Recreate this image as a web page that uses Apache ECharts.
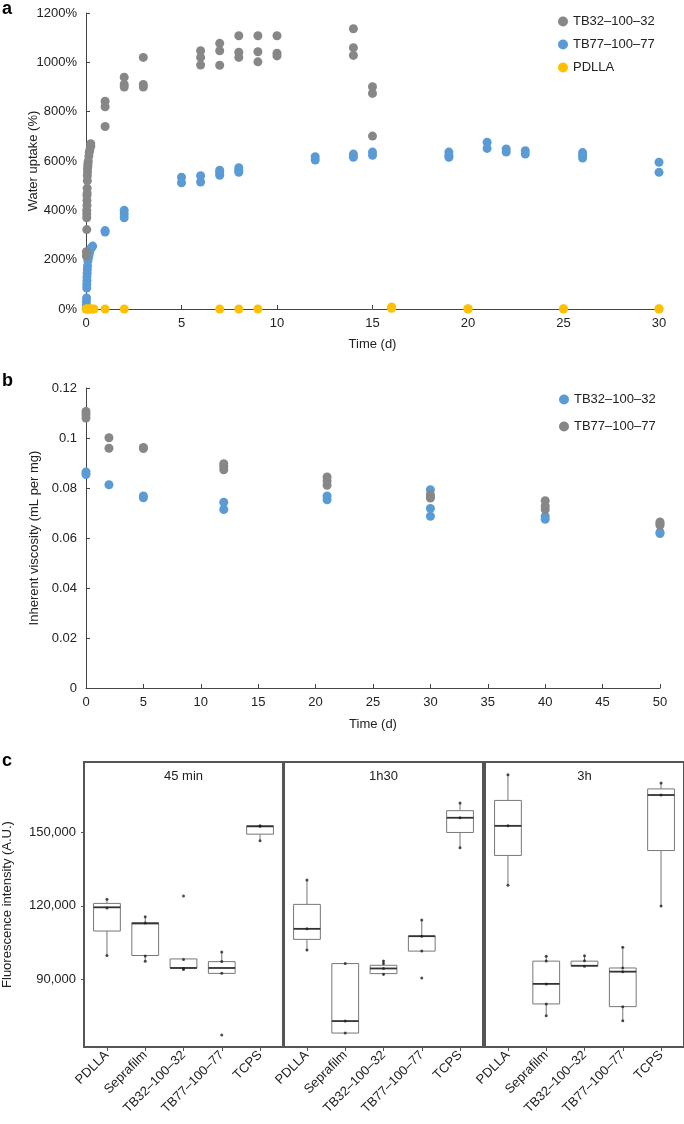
<!DOCTYPE html>
<html>
<head>
<meta charset="utf-8">
<script src="https://cdn.jsdelivr.net/npm/echarts@6/dist/echarts.min.js"></script>
<style>
  html, body { margin: 0; padding: 0; background: #fff; }
  #chart { width: 684px; height: 1124px; }
</style>
</head>
<body>
<div id="chart"></div>
<script>
// ---- panel a: water uptake (%) vs time (d) ----
const upTB32 = [
  [0.02, 215], [0.02, 232], [0.04, 322], [0.04, 370], [0.04, 385], [0.04, 400], [0.05, 420],
  [0.05, 440], [0.05, 460], [0.06, 470], [0.06, 490], [0.07, 520], [0.07, 540], [0.08, 555],
  [0.08, 570], [0.1, 580], [0.1, 590], [0.12, 600], [0.15, 620], [0.17, 635], [0.2, 645],
  [0.25, 660], [0.25, 670],
  [1, 842], [1, 820], [1, 740], [2, 940], [2, 910], [2, 900], [3, 1020], [3, 910], [3, 900],
  [6, 1047], [6, 1020], [6, 989], [7, 1077], [7, 1047], [7, 988], [8, 1108], [8, 1041], [8, 1020],
  [9, 1108], [9, 1043], [9, 1002], [10, 1108], [10, 1037], [10, 1026],
  [14, 1136], [14, 1059], [14, 1028], [15, 901], [15, 874], [15, 701]
];
const upTB77 = [
  [0.02, 15], [0.02, 30], [0.03, 45], [0.04, 85], [0.04, 100], [0.05, 115], [0.05, 130],
  [0.06, 145], [0.07, 160], [0.08, 175], [0.1, 195], [0.12, 205], [0.15, 215], [0.17, 225],
  [0.2, 235], [0.25, 245], [0.3, 250], [0.35, 255],
  [1, 318], [1, 312], [2, 400], [2, 385], [2, 370], [5, 534], [5, 512], [6, 540], [6, 515],
  [7, 563], [7, 553], [7, 542], [8, 573], [8, 563], [8, 554], [12, 617], [12, 604],
  [14, 628], [14, 615], [15, 636], [15, 623], [19, 636], [19, 623], [19, 615],
  [21, 676], [21, 651], [22, 649], [22, 636], [23, 642], [23, 628],
  [26, 634], [26, 623], [26, 612], [30, 595], [30, 554]
];
const upPDLLA = [
  [0, 0], [0.05, 0], [0.1, 0], [0.17, 0], [0.25, 0], [0.33, 0], [0.42, 0], [1, 0], [2, 0],
  [7, 0], [8, 0], [9, 0], [16, 3], [16, 8], [20, 0], [20, 1], [25, 0], [25, 1], [30, 0], [30, 1]
];

// ---- panel b: inherent viscosity (mL per mg) vs time (d) ----
const visTB32 = [
  [0, 0.0864], [0, 0.0854], [2, 0.0813], [5, 0.0768], [5, 0.0761], [12, 0.0743], [12, 0.0714],
  [21, 0.0768], [21, 0.0753], [30, 0.0793], [30, 0.0718], [30, 0.0687], [40, 0.0687], [40, 0.0675],
  [50, 0.0618], [50, 0.0622]
];
const visTB77 = [
  [0, 0.1106], [0, 0.1094], [0, 0.108], [2, 0.1001], [2, 0.0959], [5, 0.0962], [5, 0.0958],
  [12, 0.0897], [12, 0.0886], [12, 0.0873], [21, 0.0844], [21, 0.0828], [21, 0.0811],
  [30, 0.0773], [30, 0.0764], [30, 0.076], [40, 0.0749], [40, 0.0728], [40, 0.0714],
  [50, 0.0664], [50, 0.0658], [50, 0.0651]
];

// ---- panel c: fluorescence boxplots ----
const groups = ['PDLLA', 'Seprafilm', 'TB32–100–32', 'TB77–100–77', 'TCPS'];
const facets = ['45 min', '1h30', '3h'];
// [low whisker, q1, median, q3, high whisker] per group
const box45 = [
  [99700, 109700, 119400, 121000, 122700],
  [97400, 99700, 112800, 113100, 115500],
  [93900, 94600, 94600, 98300, 98300],
  [92400, 92400, 94600, 97200, 101100],
  [146600, 149300, 152500, 152700, 152700]
];
const box90 = [
  [101900, 106300, 110600, 120600, 130600],
  [68000, 68000, 72900, 96400, 96400],
  [91500, 92300, 94400, 95700, 97600],
  [101500, 101500, 107600, 107600, 114200],
  [143700, 150000, 156000, 158900, 162000]
];
const box180 = [
  [128400, 140600, 152700, 163100, 173600],
  [75100, 79900, 88100, 97400, 99400],
  [95300, 95500, 95500, 97400, 99600],
  [73000, 78800, 93100, 94600, 103100],
  [119900, 142600, 165300, 167800, 170200]
];
// individual measurements [group index (1-based), value]
const pts45 = [
  [1, 122700], [1, 119100], [1, 99700], [2, 115500], [2, 113000], [2, 99500], [2, 97400],
  [3, 124000], [3, 98100], [3, 94400], [3, 94000], [4, 101100], [4, 97200], [4, 92400], [4, 67200],
  [5, 152700], [5, 152500], [5, 146600]
];
const pts90 = [
  [1, 130600], [1, 110600], [1, 101900], [2, 96400], [2, 72900], [2, 68000],
  [3, 97500], [3, 96400], [3, 94400], [3, 92000], [4, 114200], [4, 107600], [4, 101500], [4, 90500],
  [5, 162000], [5, 156000], [5, 143700]
];
const pts180 = [
  [1, 173600], [1, 152700], [1, 128400], [2, 99400], [2, 97500], [2, 88100], [2, 79900], [2, 75100],
  [3, 99600], [3, 97600], [3, 95300], [4, 103100], [4, 94600], [4, 93100], [4, 78800], [4, 73000],
  [5, 170200], [5, 165300], [5, 119900]
];

const GRAY = '#878787';
const BLUE = '#5b9bd5';
const GOLD = '#ffc000';
const FONT = '"Liberation Sans", Arial, sans-serif';
const INK = '#222';

let myEcharts = echarts.init(document.getElementById('chart'));

// shared look of the two scatter panels
function sAxisX(grid, max, gap) {
  return {
    type: 'value', gridIndex: grid, min: 0, max: max, interval: 5,
    name: 'Time (d)', nameLocation: 'middle', nameGap: gap, nameMoveOverlap: false,
    nameTextStyle: { fontFamily: FONT, fontSize: 13, color: INK },
    axisLine: { show: true, onZero: false, lineStyle: { color: '#444', width: 1 } },
    axisTick: { show: true, inside: true, length: 4, lineStyle: { color: '#444' } },
    axisLabel: { fontFamily: FONT, fontSize: 13, color: INK, margin: 8 },
    splitLine: { show: false }
  };
}
function sAxisY(grid, max, interval, name, gap, fmt) {
  return {
    type: 'value', gridIndex: grid, min: 0, max: max, interval: interval,
    name: name, nameLocation: 'middle', nameGap: gap, nameMoveOverlap: false,
    nameTextStyle: { fontFamily: FONT, fontSize: 13, color: INK },
    axisLine: { show: true, lineStyle: { color: '#444', width: 1 } },
    axisTick: { show: true, inside: true, length: 4, lineStyle: { color: '#444' } },
    axisLabel: { fontFamily: FONT, fontSize: 13, color: INK, margin: 9, formatter: fmt },
    splitLine: { show: false }
  };
}
function dots(name, data, color, x, y) {
  return {
    name: name, type: 'scatter', xAxisIndex: x, yAxisIndex: y, data: data,
    symbol: 'circle', symbolSize: 9, itemStyle: { color: color, opacity: 1 },
    clip: false, animation: false
  };
}

// box drawn through the axis scales
function boxItem(params, api) {
  let x = api.value(0);
  let lo = api.coord([x, api.value(1)]);
  let q1 = api.coord([x, api.value(2)]);
  let md = api.coord([x, api.value(3)]);
  let q3 = api.coord([x, api.value(4)]);
  let hi = api.coord([x, api.value(5)]);
  let half = api.size([0.35, 0])[0];
  let cx = lo[0];
  let st = { stroke: '#666', lineWidth: 0.9 };
  return {
    type: 'group',
    children: [
      { type: 'line', shape: { x1: cx, y1: lo[1], x2: cx, y2: q1[1] }, style: st },
      { type: 'line', shape: { x1: cx, y1: q3[1], x2: cx, y2: hi[1] }, style: st },
      { type: 'rect', shape: { x: cx - half, y: q3[1], width: half * 2, height: q1[1] - q3[1] },
        style: { fill: '#fff', stroke: '#777', lineWidth: 1 } },
      { type: 'line', shape: { x1: cx - half, y1: md[1], x2: cx + half, y2: md[1] },
        style: { stroke: '#333', lineWidth: 1.8 } }
    ]
  };
}

const cLefts = [84, 284, 485];
const boxes = [box45, box90, box180];
const pts = [pts45, pts90, pts180];

let grids = [
  { left: 86, top: 13, width: 573, height: 296 },
  { left: 86, top: 388, width: 574, height: 300 }
];
let xAxes = [sAxisX(0, 30, 29), sAxisX(1, 50, 30)];
let yAxes = [
  sAxisY(0, 1200, 200, 'Water uptake (%)', 46, v => v + '%'),
  sAxisY(1, 0.12, 0.02, 'Inherent viscosity (mL per mg)', 45, v => String(+v.toFixed(2)))
];
let series = [
  dots('TB77–100–77', upTB77, BLUE, 0, 0),
  dots('TB32–100–32', upTB32, GRAY, 0, 0),
  dots('PDLLA', upPDLLA, GOLD, 0, 0),
  dots('TB32–100–32', visTB32, BLUE, 1, 1),
  dots('TB77–100–77', visTB77, GRAY, 1, 1)
];
let graphics = [
  { type: 'text', left: 2, top: 0, style: { text: 'a', font: 'bold 18px ' + FONT, fill: '#000' } },
  { type: 'text', left: 2, top: 372, style: { text: 'b', font: 'bold 18px ' + FONT, fill: '#000' } },
  { type: 'text', left: 2, top: 752, style: { text: 'c', font: 'bold 18px ' + FONT, fill: '#000' } }
];

cLefts.forEach((left, i) => {
  let g = i + 2;
  grids.push({ left: left, top: 762, width: 199, height: 285, show: true,
    borderColor: '#555', borderWidth: 2, backgroundColor: '#fff' });
  xAxes.push({
    type: 'value', gridIndex: g, min: 0.4, max: 5.6,
    axisLine: { show: false },
    axisTick: { show: true, customValues: [1, 2, 3, 4, 5], length: 4, lineStyle: { color: '#555' } },
    axisLabel: { customValues: [1, 2, 3, 4, 5], formatter: v => groups[v - 1], rotate: 45,
      fontFamily: FONT, fontSize: 13, color: INK, margin: 6 },
    splitLine: { show: false }
  });
  yAxes.push({
    type: 'value', gridIndex: g, min: 62300, max: 178800,
    name: i === 0 ? 'Fluorescence intensity (A.U.)' : '', nameLocation: 'middle', nameGap: 70,
    nameMoveOverlap: false,
    nameTextStyle: { fontFamily: FONT, fontSize: 13, color: INK },
    axisLine: { show: false },
    axisTick: { show: i === 0, customValues: [90000, 120000, 150000], length: 3, lineStyle: { color: '#555' } },
    axisLabel: { show: i === 0, customValues: [90000, 120000, 150000],
      formatter: v => v.toLocaleString('en-US'), fontFamily: FONT, fontSize: 13, color: INK, margin: 8 },
    splitLine: { show: false }
  });
  series.push({
    type: 'custom', xAxisIndex: g, yAxisIndex: g, renderItem: boxItem,
    encode: { x: 0, y: [1, 2, 3, 4, 5] },
    data: boxes[i].map((b, k) => [k + 1].concat(b)), z: 2, animation: false
  });
  series.push({
    type: 'scatter', xAxisIndex: g, yAxisIndex: g, data: pts[i], symbolSize: 3,
    itemStyle: { color: '#222' }, z: 3, animation: false
  });
  graphics.push({ type: 'text', x: left + 99.5, y: 776,
    style: { text: facets[i], font: '13px ' + FONT, fill: INK, align: 'center', verticalAlign: 'middle' } });
});

let option = {
  backgroundColor: '#fff',
  animation: false,
  grid: grids,
  xAxis: xAxes,
  yAxis: yAxes,
  legend: [
    {
      data: [
        { name: 'TB32–100–32', itemStyle: { color: GRAY } },
        { name: 'TB77–100–77', itemStyle: { color: BLUE } },
        { name: 'PDLLA', itemStyle: { color: GOLD } }
      ],
      orient: 'vertical', left: 553, top: 10, itemGap: 10, icon: 'circle',
      itemWidth: 10, itemHeight: 10, selectedMode: false,
      textStyle: { fontFamily: FONT, fontSize: 13, color: INK }
    },
    {
      data: [
        { name: 'TB32–100–32', itemStyle: { color: BLUE } },
        { name: 'TB77–100–77', itemStyle: { color: GRAY } }
      ],
      orient: 'vertical', left: 554, top: 388, itemGap: 14, icon: 'circle',
      itemWidth: 10, itemHeight: 10, selectedMode: false,
      textStyle: { fontFamily: FONT, fontSize: 13, color: INK }
    }
  ],
  graphic: graphics,
  series: series
};

option && myEcharts.setOption(option);
</script>
</body>
</html>
